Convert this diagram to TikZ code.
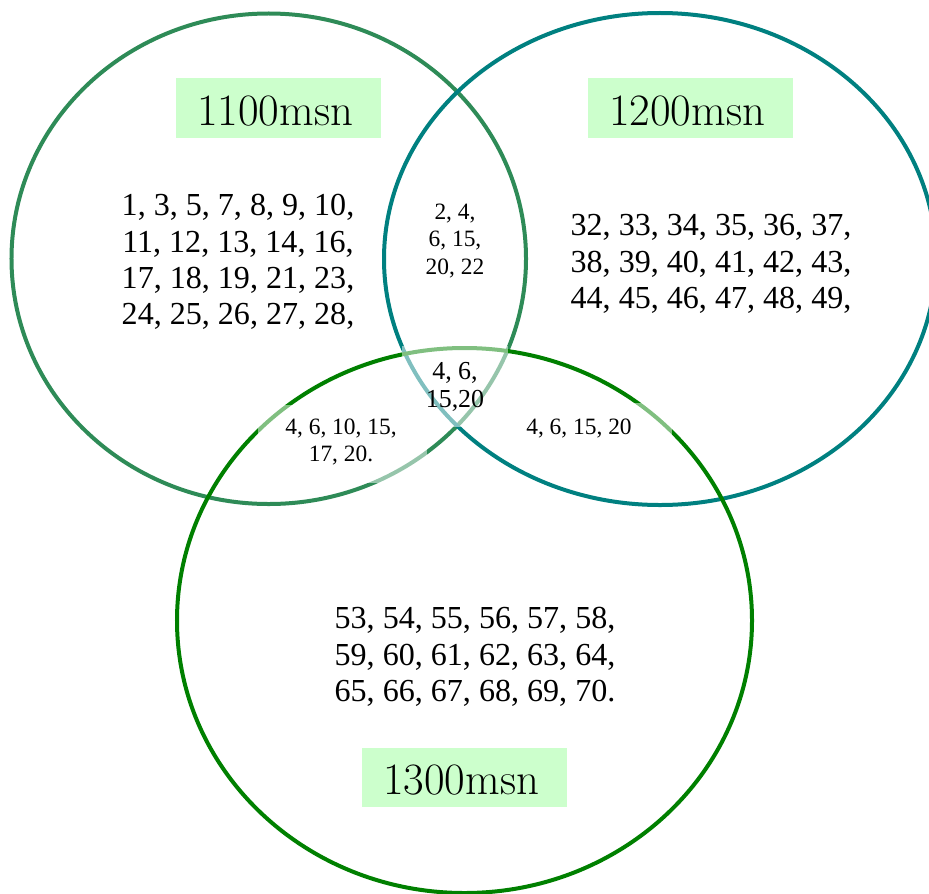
\documentclass[tikz,border=0pt]{standalone}
\usepackage{fontspec}
\newfontfamily\numfont{Liberation Serif}
\definecolor{setA}{HTML}{2E8B57}
\definecolor{setB}{HTML}{008080}
\definecolor{setC}{HTML}{008000}
\definecolor{tagfill}{HTML}{CCFFCC}
\tikzset{
  ring/.style={line width=4bp},
  veil/.style={fill=white, fill opacity=0.5, draw=none},
  tagbox/.style={fill=tagfill, draw=none},
  tagtext/.style={anchor=west, inner sep=0pt, font=\fontsize{45}{50}\selectfont},
  bignums/.style={align=center, inner sep=0pt, font=\numfont\fontsize{32.2}{36.5}\selectfont},
  smallnums/.style={align=center, inner sep=0pt, font=\numfont\fontsize{23.5}{28}\selectfont},
  midnums/.style={align=center, inner sep=0pt, font=\numfont\fontsize{26}{28.5}\selectfont}
}
\begin{document}
\begin{tikzpicture}[x=1bp,y=-1bp]
\useasboundingbox (0,0) rectangle (929,894);

% the three sets
\draw[ring, setA] (268.75,258.75) ellipse [x radius=257.25bp, y radius=245.25bp];
\draw[ring, setB] (660,259) ellipse [x radius=276bp, y radius=246bp];
\draw[ring, setC] (464.5,620.5) ellipse [x radius=287.5bp, y radius=272.5bp];

% translucent backgrounds of the overlap labels
\fill[veil] (258,405) rectangle (427,483);
\fill[veil] (402,346) rectangle (508,427);
\fill[veil] (510,403) rectangle (672,455);

% set captions
\fill[tagbox] (176,78) rectangle (381,138);
\node[tagtext] (tA) at (197,111) {1100msn};
\fill[tagbox] (588,78) rectangle (793,138);
\node[tagtext] (tB) at (609,111) {1200msn};
\fill[tagbox] (362,748) rectangle (567,807);
\node[tagtext] (tC) at (383,780) {1300msn};

% members of each region
\node[bignums] (onlyA) at (238,262) {1, 3, 5, 7, 8, 9, 10,\\11, 12, 13, 14, 16,\\17, 18, 19, 21, 23,\\24, 25, 26, 27, 28,};
\node[bignums] (onlyB) at (711,264) {32, 33, 34, 35, 36, 37,\\38, 39, 40, 41, 42, 43,\\44, 45, 46, 47, 48, 49,};
\node[bignums] (onlyC) at (475,657) {53, 54, 55, 56, 57, 58,\\59, 60, 61, 62, 63, 64,\\65, 66, 67, 68, 69, 70.};
\node[smallnums] (AB) at (455,241) {2, 4,\\6, 15,\\20, 22};
\node[midnums] (ABC) at (455,387) {4, 6,\\15,20};
\node[smallnums] (AC) at (341,442) {4, 6, 10, 15,\\17, 20.};
\node[smallnums] (BC) at (579,429) {4, 6, 15, 20};
\end{tikzpicture}
\end{document}
